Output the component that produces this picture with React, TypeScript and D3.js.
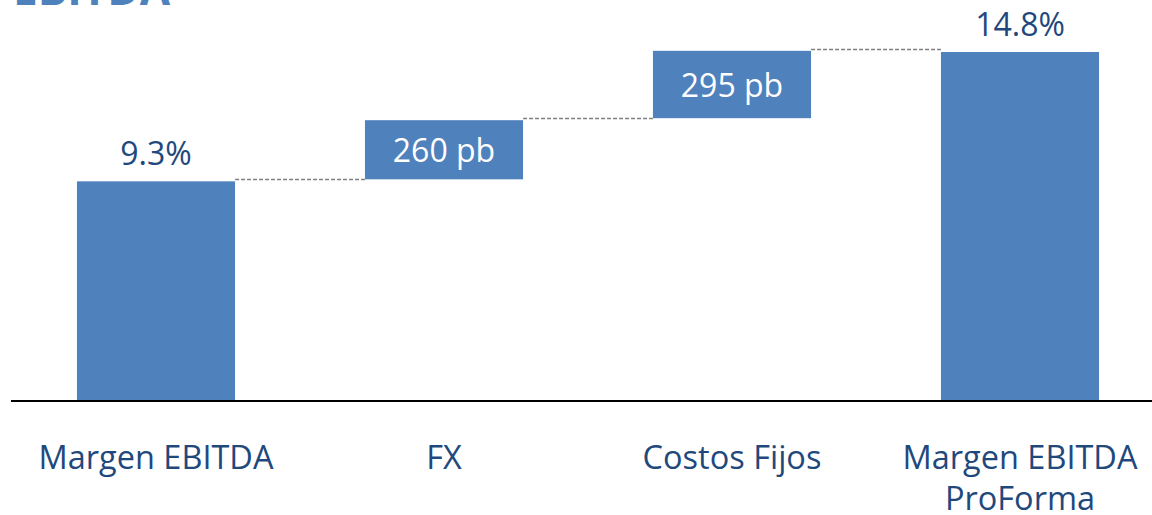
import * as d3 from 'd3';
import { useEffect, useRef } from 'react';

const categories = ['Margen EBITDA', 'FX', 'Costos Fijos', 'Margen EBITDA\nProForma'];
const kinds = ['total', 'delta', 'delta', 'total'];
const values = [9.3, 2.6, 2.95, 14.8];
const valueLabels = ['9.3%', '260 pb', '295 pb', '14.8%'];

export default function App() {
  const ref = useRef<SVGSVGElement | null>(null);
  useEffect(() => {
    if (!ref.current) return;
    const svg = d3.select(ref.current);
    svg.selectAll('*').remove();
    const width = 1152;
    const height = 515;
    const font = '"Open Sans", sans-serif';
    svg.attr('viewBox', `0 0 ${width} ${height}`);

    const x = d3
      .scaleBand<string>()
      .domain(categories)
      .range([12, 1164])
      .paddingInner(0.451)
      .paddingOuter(0.2255);
    const y = d3.scaleLinear().domain([0, 14.8]).range([400, 52]);

    // running totals for the waterfall
    let run = 0;
    const bars = categories.map((c, i) => {
      let lo: number, hi: number;
      if (kinds[i] === 'total') {
        lo = 0;
        hi = values[i];
        run = values[i];
      } else {
        lo = run;
        hi = run + values[i];
        run = hi;
      }
      return { c, lo, hi, kind: kinds[i], label: valueLabels[i] };
    });

    // title (partly out of view)
    svg
      .append('text')
      .attr('x', 13)
      .attr('y', 5)
      .attr('font-family', font)
      .attr('font-weight', 700)
      .attr('font-size', 44)
      .attr('fill', '#4F81BD')
      .text('EBITDA');

    // connectors
    svg
      .append('g')
      .selectAll('line')
      .data(bars.slice(0, -1))
      .enter()
      .append('line')
      .attr('x1', (d) => (x(d.c) || 0) + x.bandwidth())
      .attr('x2', (_d, i) => x(bars[i + 1].c) || 0)
      .attr('y1', (d) => Math.round(y(d.hi)) - 1.5)
      .attr('y2', (d) => Math.round(y(d.hi)) - 1.5)
      .attr('stroke', '#7F7F7F')
      .attr('stroke-width', 1.3)
      .attr('stroke-dasharray', '4,2');

    svg
      .append('g')
      .selectAll('rect')
      .data(bars)
      .enter()
      .append('rect')
      .attr('x', (d) => x(d.c) || 0)
      .attr('y', (d) => y(d.hi))
      .attr('width', x.bandwidth())
      .attr('height', (d) => y(d.lo) - y(d.hi) - (d.kind === 'delta' ? 2 : 0))
      .attr('fill', '#4F81BD');

    // value labels
    svg
      .append('g')
      .selectAll('text')
      .data(bars)
      .enter()
      .append('text')
      .attr('x', (d) => (x(d.c) || 0) + x.bandwidth() / 2)
      .attr('y', (d) => (d.kind === 'total' ? y(d.hi) - 16 : (y(d.hi) + y(d.lo)) / 2 + 11))
      .attr('text-anchor', 'middle')
      .attr('font-family', font)
      .attr('font-size', 32)
      .attr('fill', (d) => (d.kind === 'total' ? '#1F497D' : '#FFFFFF'))
      .text((d) => d.label);

    // axis line
    svg
      .append('line')
      .attr('x1', 11)
      .attr('x2', width)
      .attr('y1', 401)
      .attr('y2', 401)
      .attr('stroke', '#000')
      .attr('stroke-width', 2);

    // category labels
    const cat = svg
      .append('g')
      .selectAll('text')
      .data(categories)
      .enter()
      .append('text')
      .attr('x', (d) => (x(d) || 0) + x.bandwidth() / 2)
      .attr('y', 469)
      .attr('text-anchor', 'middle')
      .attr('font-family', font)
      .attr('font-size', 32.5)
      .attr('fill', '#1F497D');
    cat
      .selectAll('tspan')
      .data((d) => d.split('\n').map((t) => ({ t, x: (x(d) || 0) + x.bandwidth() / 2 })))
      .enter()
      .append('tspan')
      .attr('x', (d) => d.x)
      .attr('dy', (_d, i) => (i === 0 ? 0 : 41))
      .text((d) => d.t);
  }, []);

  return (
    <svg
      ref={ref}
      width={1152}
      height={515}
      style={{ position: 'absolute', left: 0, top: 0, display: 'block', background: '#fff' }}
    />
  );
}
